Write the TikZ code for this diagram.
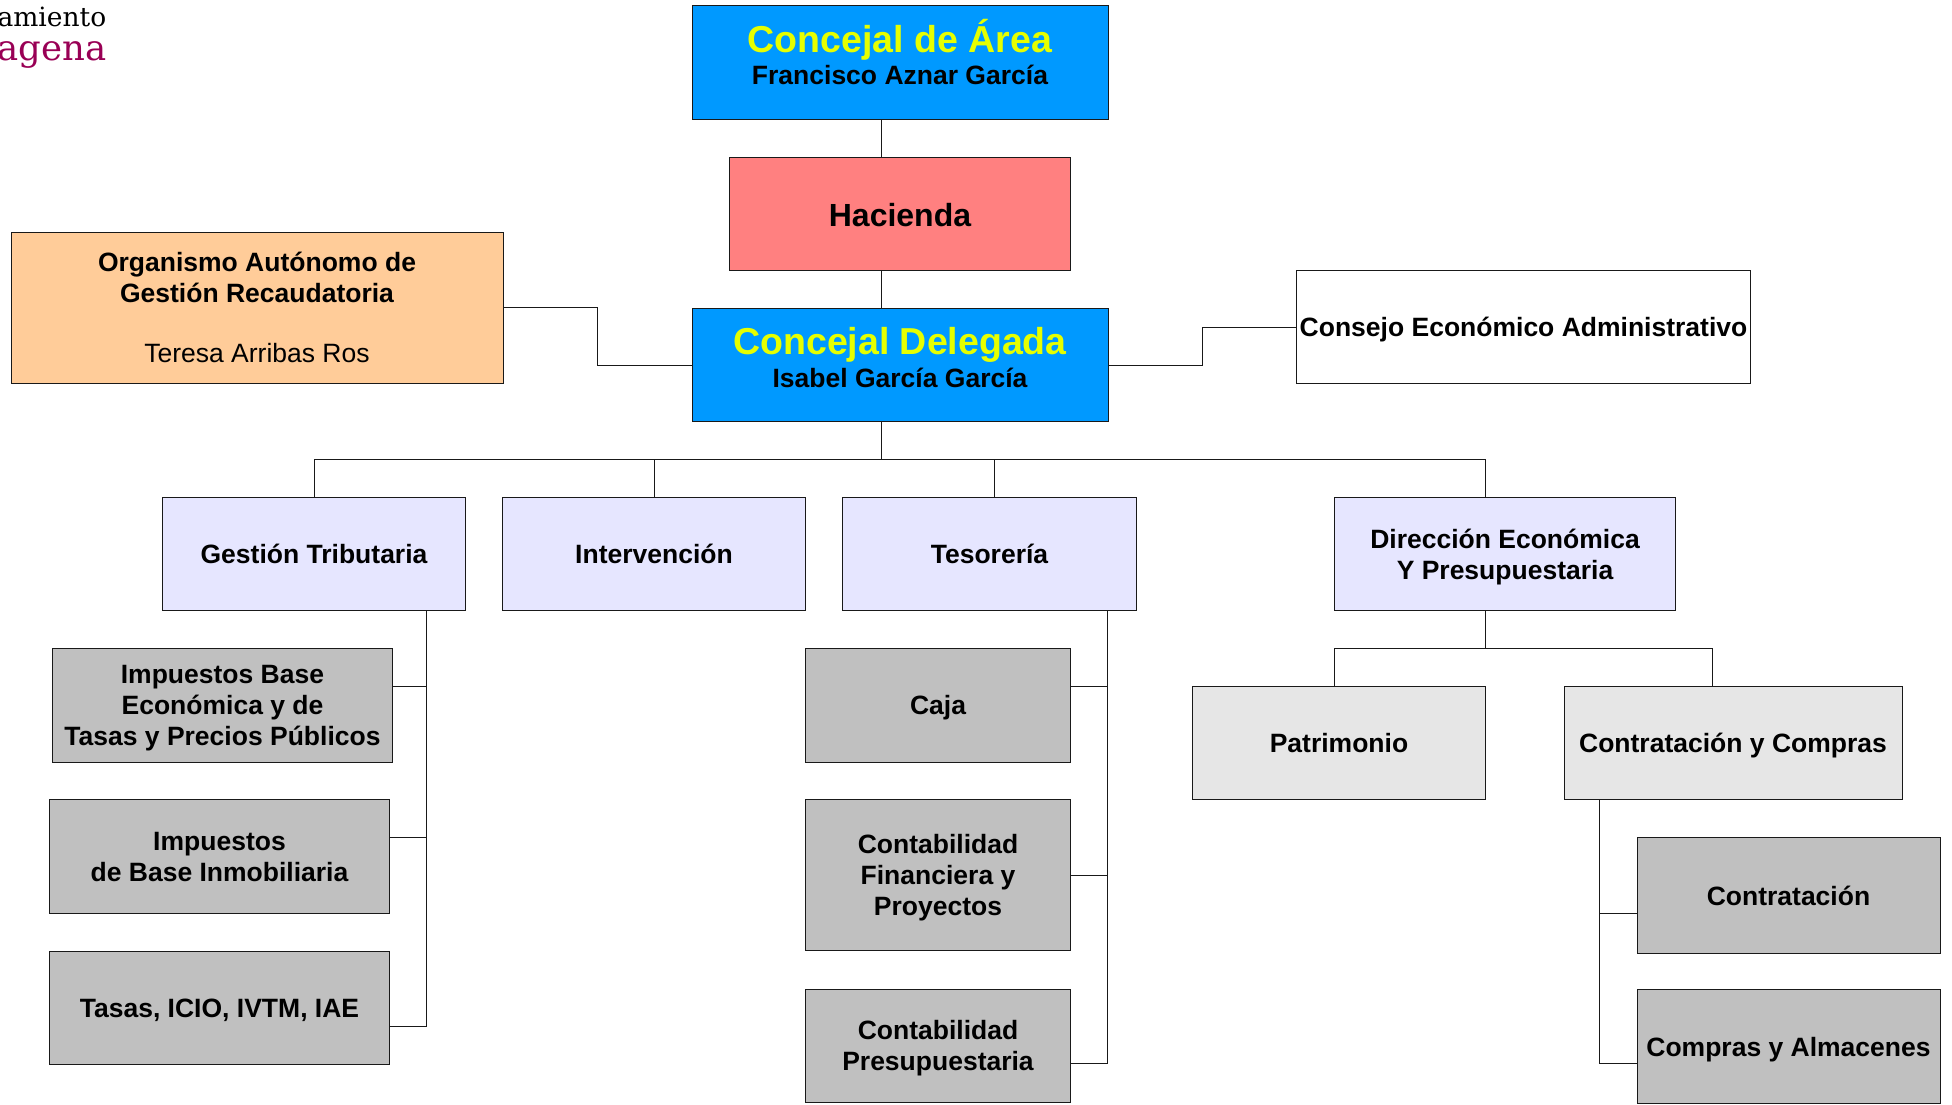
\documentclass[tikz,border=0pt]{standalone}
\usepackage{fontspec}
\setmainfont{Liberation Sans}
\newfontfamily\logofont{DejaVu Serif}
\definecolor{azul}{HTML}{0099FF}
\definecolor{rosa}{HTML}{FF8080}
\definecolor{naranja}{HTML}{FFCC99}
\definecolor{lavanda}{HTML}{E6E6FF}
\definecolor{grisclaro}{HTML}{E6E6E6}
\definecolor{gris}{HTML}{C0C0C0}
\definecolor{amarillo}{HTML}{E6FF00}
\definecolor{granate}{HTML}{990055}
\newcommand{\titulo}[1]{{\fontsize{37.5}{40}\selectfont\color{amarillo}#1}}
\newcommand{\puntal}{\rule[-7pt]{0pt}{33pt}}
\tikzstyle{caja} = [draw=black!90, line width=0.9pt, inner sep=0pt, align=center, font=\fontsize{26.5}{31}\bfseries\selectfont, execute at begin node=\puntal, execute at end node=\puntal]
\tikzstyle{varias} = [text depth=0pt]
\tikzstyle{linea} = [draw=black!90, line width=0.9pt]

\begin{document}
\begin{tikzpicture}[x=1pt,y=-1pt]
        \path[use as bounding box, clip] (0.5,0.5) rectangle (1952.5,1104.5);
        %logo
        \node[anchor=base east, font=\logofont\fontsize{26.5}{30}\selectfont, inner sep=0pt] (ayto) at (107,27) {amiento};
        \node[anchor=base east, font=\logofont\fontsize{35.5}{38}\selectfont, inner sep=0pt, text=granate] (ciudad) at (107,61) {agena};
        %concejales
        \node[caja, fill=azul, minimum width=416pt, minimum height=114pt, text depth=22pt] (area) at (900.5,63) {\titulo{Concejal de Área}\\[1pt] Francisco Aznar García};
        \node[caja, fill=rosa, minimum width=341pt, minimum height=113pt, text depth=1pt, font=\fontsize{32}{36}\bfseries\selectfont] (hacienda) at (900.5,214) {Hacienda};
        \node[caja, fill=azul, minimum width=416pt, minimum height=113pt, text depth=15pt] (delegada) at (900.5,365.5) {\titulo{Concejal Delegada}\\[2pt] Isabel García García};
        \node[caja, varias, fill=naranja, minimum width=492pt, minimum height=151pt] (organismo) at (257.5,308) {Organismo Autónomo de\\ Gestión Recaudatoria\\[29pt] \mdseries Teresa Arribas Ros};
        \node[caja, fill=white, minimum width=454pt, minimum height=113pt] (consejo) at (1524,327.5) {Consejo Económico Administrativo};
        %servicios
        \node[caja, fill=lavanda, minimum width=303pt, minimum height=113pt] (gestion) at (314.5,554.5) {Gestión Tributaria};
        \node[caja, fill=lavanda, minimum width=303pt, minimum height=113pt] (intervencion) at (654.5,554.5) {Intervención};
        \node[caja, fill=lavanda, minimum width=294pt, minimum height=113pt] (tesoreria) at (990,554.5) {Tesorería};
        \node[caja, varias, fill=lavanda, minimum width=341pt, minimum height=113pt] (direccion) at (1505.5,554.5) {Dirección Económica\\ Y Presupuestaria};
        %gestion tributaria
        \node[caja, text depth=-2pt, fill=gris, minimum width=340pt, minimum height=114pt] (baseeco) at (223,705.5) {Impuestos Base\\ Económica y de\\ Tasas y Precios Públicos};
        \node[caja, varias, fill=gris, minimum width=340pt, minimum height=114pt] (baseinm) at (220,857) {Impuestos\\ de Base Inmobiliaria};
        \node[caja, fill=gris, minimum width=340pt, minimum height=113pt] (tasas) at (220,1008) {Tasas, ICIO, IVTM, IAE};
        %tesoreria
        \node[caja, fill=gris, minimum width=265pt, minimum height=114pt] (cajaser) at (938.5,705.5) {Caja};
        \node[caja, varias, fill=gris, minimum width=265pt, minimum height=151pt] (financiera) at (938.5,875.5) {Contabilidad\\ Financiera y\\ Proyectos};
        \node[caja, varias, fill=gris, minimum width=265pt, minimum height=113pt] (presupuestaria) at (938.5,1046) {Contabilidad\\ Presupuestaria};
        %direccion economica
        \node[caja, fill=grisclaro, minimum width=293pt, minimum height=113pt] (patrimonio) at (1339.5,743.5) {Patrimonio};
        \node[caja, fill=grisclaro, minimum width=338pt, minimum height=113pt] (compras) at (1733.5,743.5) {Contratación y Compras};
        \node[caja, fill=gris, minimum width=303pt, minimum height=116pt] (contratacion) at (1789,896) {Contratación};
        \node[caja, fill=gris, minimum width=303pt, minimum height=114pt] (almacenes) at (1789,1047) {Compras y Almacenes};
        %puntos de paso
        \coordinate (eje) at (882,460);
        \coordinate (codoorg) at (598,308);
        \coordinate (codocon) at (1203,328);
        \coordinate (tes) at (995,460);
        \coordinate (dir) at (1486,460);
        \coordinate (rama) at (1486,649);
        \coordinate (bajagestion) at (427,1027);
        \coordinate (bajatesoreria) at (1108,1064);
        \coordinate (bajacompras) at (1600,1064);
        %conexiones
        \draw[linea] (area.south -| eje) -- (hacienda.north -| eje);
        \draw[linea] (hacienda.south -| eje) -- (delegada.north -| eje);
        \draw[linea] (organismo.east) -- (codoorg) -- (codoorg |- delegada.west) -- (delegada.west);
        \draw[linea] (delegada.east) -- (delegada.east -| codocon) -- (codocon |- consejo.west) -- (consejo.west);
        \draw[linea] (delegada.south -| eje) -- (eje);
        \draw[linea] (gestion.north) -- (gestion.north |- eje) -- (dir) -- (direccion.north -| dir);
        \draw[linea] (intervencion.north) -- (intervencion.north |- eje);
        \draw[linea] (tes) -- (tesoreria.north -| tes);
        %ramas inferiores
        \draw[linea] (gestion.south -| bajagestion) -- (bajagestion) -- (bajagestion -| tasas.east);
        \draw[linea] (baseeco.east |- 0,687) -- (bajagestion |- 0,687);
        \draw[linea] (baseinm.east |- 0,838) -- (bajagestion |- 0,838);
        \draw[linea] (tesoreria.south -| bajatesoreria) -- (bajatesoreria) -- (bajatesoreria -| presupuestaria.east);
        \draw[linea] (cajaser.east |- 0,687) -- (bajatesoreria |- 0,687);
        \draw[linea] (financiera.east) -- (financiera.east -| bajatesoreria);
        \draw[linea] (direccion.south -| rama) -- (rama);
        \draw[linea] (patrimonio.north -| 1335,0) -- (1335,649) -- (1713,649) -- (compras.north -| 1713,0);
        \draw[linea] (compras.south -| bajacompras) -- (bajacompras) -- (bajacompras -| almacenes.west);
        \draw[linea] (bajacompras |- 0,914) -- (contratacion.west |- 0,914);
\end{tikzpicture}
\end{document}
